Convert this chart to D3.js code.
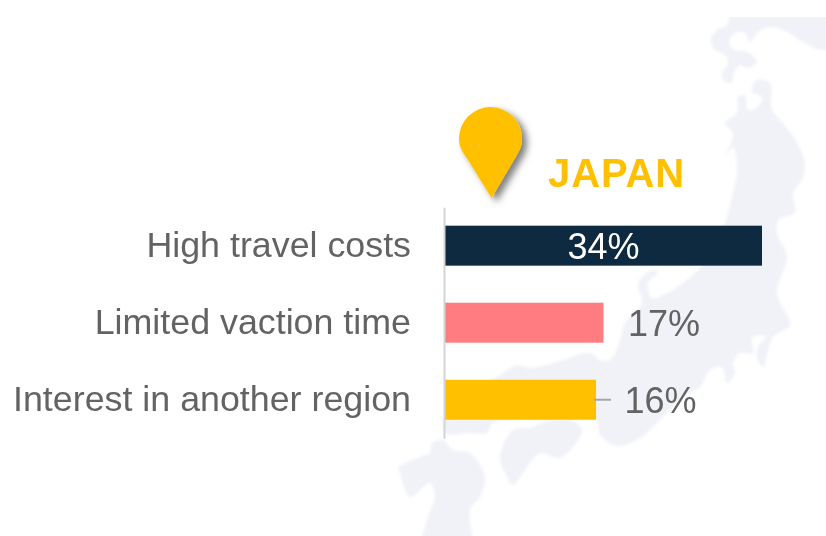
<!DOCTYPE html>
<html>
<head>
<meta charset="utf-8">
<script src="https://cdn.jsdelivr.net/npm/d3@7"></script>
<style>
html,body{margin:0;padding:0;background:#fff;overflow:hidden}
svg{display:block}
text{font-family:"Liberation Sans",Arial,sans-serif}
</style>
</head>
<body>
<svg id="chart" width="826" height="536"></svg>
<script>
/* ── Data ── */
var categories=['High travel costs','Limited vaction time','Interest in another region'];
var shares=[34,17,16.2];
var barColors=['#0f2a3f','#ff7c80','#ffc000'];
var country='JAPAN';

/* ── Background map outline, traced by hand (decoration, not data) ── */
var hokkaido=[[732,10],[826,10],[840,30],[826,50],[803,42],[787,32],[770,27],[758,32],[750,42],[745,33],[735,33],[729,42],[735,50],[747,52],[757,62],[748,68],[740,65],[733,75],[732,83],[723,80],[722,73],[728,63],[725,55],[715,50],[711,40],[717,30],[727,25]];
var honshu=[[757,80],[770,83],[772,110],[783,123],[797,143],[805,163],[802,180],[793,193],[795,212],[778,220],[777,233],[787,257],[777,293],[790,325],[773,337],[763,367],[757,357],[758,347],[766,336],[752,338],[753,353],[740,353],[733,363],[735,373],[727,383],[722,367],[710,370],[700,387],[683,397],[660,420],[640,438],[617,446],[600,435],[596,420],[560,420],[493,423],[487,433],[470,433],[445,433],[445,415],[503,373],[517,365],[530,368],[557,362],[590,353],[600,360],[610,360],[620,340],[625,323],[642,303],[638,283],[653,270],[658,273],[648,283],[652,298],[667,293],[693,275],[713,250],[725,223],[733,193],[737,170],[733,147],[725,158],[733,133],[725,123],[737,113],[738,97],[745,95],[748,110],[758,107],[762,97],[753,93],[752,88]];
var shikoku=[[513,430],[500,457],[505,473],[513,485],[523,473],[540,453],[560,458],[582,430],[570,420],[543,423],[530,428]];
var kyushu=[[432,443],[443,440],[453,450],[470,453],[485,477],[480,497],[470,510],[470,550],[423,550],[427,520],[435,497],[430,483],[410,497],[400,473],[398,468],[420,457],[430,453]];

var svg=d3.select('#chart');
var defs=svg.append('defs');
defs.append('filter').attr('id','mapBlur').append('feGaussianBlur').attr('stdDeviation',1.5);
defs.append('clipPath').attr('id','mapClip').append('rect')
  .attr('x',0).attr('y',17).attr('width',826).attr('height',519);
var shadow=defs.append('filter').attr('id','pinShadow')
  .attr('x','-30%').attr('y','-30%').attr('width','170%').attr('height','170%');
shadow.append('feDropShadow').attr('dx',5).attr('dy',4).attr('stdDeviation',3.5)
  .attr('flood-color','#000').attr('flood-opacity',.5);
defs.append('filter').attr('id','soft').append('feGaussianBlur').attr('stdDeviation',.45);

/* ── Map ── */
var outline=d3.line().curve(d3.curveCatmullRomClosed.alpha(.5));
var mapG=svg.append('g').attr('clip-path','url(#mapClip)').append('g').attr('filter','url(#mapBlur)');
[hokkaido,honshu,shikoku,kyushu].forEach(function(isl){
  mapG.append('path').attr('d',outline(isl)).attr('fill','#f0f2f8');
});

/* ── Scales ── */
var x=d3.scaleLinear().domain([0,34]).range([445,762]);
var y=d3.scaleBand().domain(categories).range([207.2,438.2]).paddingInner(.481).paddingOuter(.24);

var chartG=svg.append('g').attr('filter','url(#soft)');

/* ── Bars ── */
categories.forEach(function(c,i){
  chartG.append('rect').attr('x',x(0)).attr('y',y(c))
    .attr('width',x(shares[i])-x(0)).attr('height',y.bandwidth())
    .attr('fill',barColors[i]);
});

/* ── Category axis ── */
var axisG=chartG.append('g').attr('transform','translate(444,0)')
  .call(d3.axisLeft(y).tickSize(0).tickSizeOuter(0).tickPadding(33));
axisG.select('.domain').attr('stroke','#d4d4d4').attr('stroke-width',2);
axisG.selectAll('text').attr('font-size','35.8px').attr('fill','#636363')
  .attr('font-family','"Liberation Sans",Arial,sans-serif');

/* ── Value labels ── */
categories.forEach(function(c,i){
  var v=shares[i], cy=y(c)+y.bandwidth()/2, inside=v>=30;
  var nudged=v<17;
  if(nudged){
    chartG.append('line').attr('x1',x(v)-2).attr('x2',x(v)+15).attr('y1',cy).attr('y2',cy)
      .attr('stroke','#a6a6a6').attr('stroke-width',2);
  }
  chartG.append('text')
    .attr('x',inside?(x(0)+x(v))/2:x(v)+(nudged?28.5:24.5))
    .attr('y',cy+13)
    .attr('text-anchor',inside?'middle':'start')
    .attr('font-size','36px')
    .attr('fill',inside?'#fff':'#636363')
    .text(Math.round(v)+'%');
});

/* ── Pin + country name ── */
chartG.append('path')
  .attr('d','M491.5,198 L468,160 C462,151 459,148 459,138.5 A31.5,31.5 0 1 1 522,138.5 C522,148 519,151 514,160 Z')
  .attr('fill','#ffc000').attr('filter','url(#pinShadow)');
chartG.append('text').attr('x',548).attr('y',187)
  .attr('font-size','40px').attr('font-weight','700').attr('fill','#ffc000')
  .attr('letter-spacing','.9px')
  .text(country);
</script>
</body>
</html>
